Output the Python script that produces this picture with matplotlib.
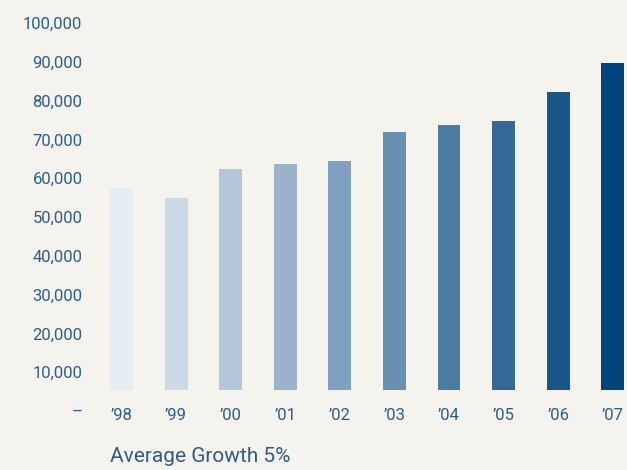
import matplotlib
matplotlib.use("Agg")
import matplotlib.pyplot as plt

# data
years = ["\u201998", "\u201999", "\u201900", "\u201901", "\u201902",
         "\u201903", "\u201904", "\u201905", "\u201906", "\u201907"]
values = [57500, 55000, 62400, 63700, 64500, 72000, 73800, 74800, 82300, 89700]
bar_colors = ["#e6ecf4", "#cbd9e5", "#b4c7d9", "#9ab3ca", "#7fa1bf",
              "#6890b2", "#4d7ca3", "#336998", "#1b5688", "#00457b"]
yticks = [0, 10000, 20000, 30000, 40000, 50000, 60000, 70000, 80000, 90000, 100000]
ytick_labels = ["\u2013"] + [f"{v:,}" for v in yticks[1:]]
footnote = "Average Growth 5%"

BG = "#f4f3ee"
TXT = "#2d5d8d"
BASE = 5400  # bars start slightly above the zero line

plt.rcParams["font.family"] = ["Roboto", "DejaVu Sans"]

fig = plt.figure(figsize=(6.27, 4.7), dpi=100, facecolor=BG)
ax = fig.add_axes([95 / 627, 59 / 470, 532 / 627, 388 / 470])
ax.set_facecolor(BG)

x = list(range(len(years)))
ax.bar(x, [v - BASE for v in values], bottom=BASE, width=0.42,
       color=bar_colors, linewidth=0)

ax.set_xlim(-0.485, 9.26)
ax.set_ylim(0, 100000)
ax.set_yticks(yticks)
ax.set_yticklabels(ytick_labels)
ax.set_xticks(x)
ax.set_xticklabels(years)
for lbl in ax.get_xticklabels():
    lbl.set_verticalalignment("center")

ax.tick_params(axis="y", length=0, pad=9, labelsize=12, labelcolor=TXT)
ax.tick_params(axis="x", length=0, pad=3, labelsize=12, labelcolor=TXT)
for s in ax.spines.values():
    s.set_visible(False)

fig.text(110 / 627, 1 - 456 / 470, footnote, fontsize=15, color=TXT,
         va="center", ha="left")

fig.savefig("out.png", dpi=100, facecolor=BG)
